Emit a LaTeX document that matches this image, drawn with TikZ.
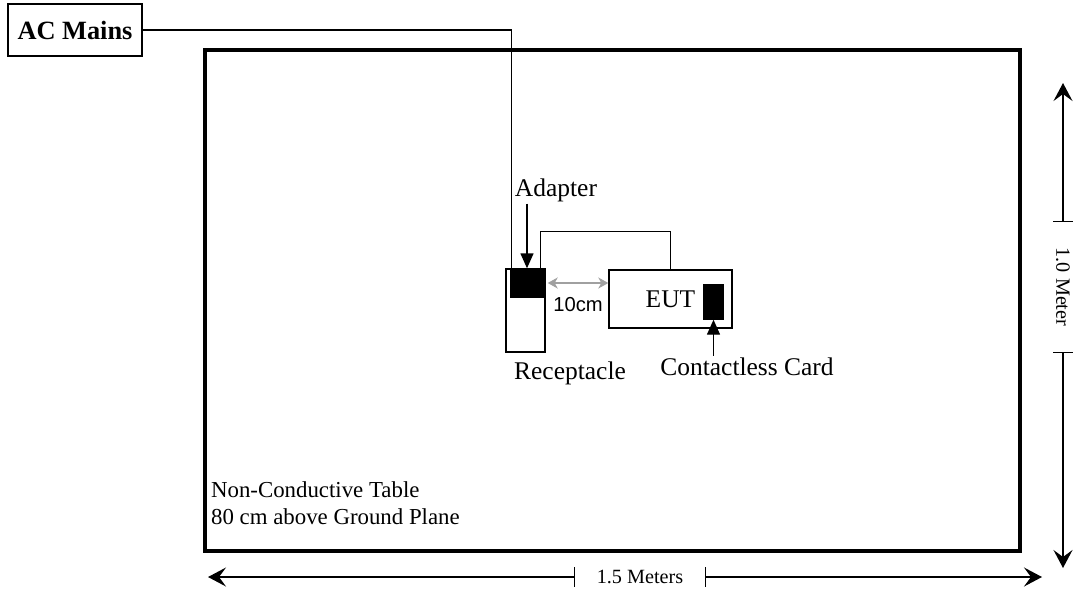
\documentclass[tikz,border=0pt]{standalone}
\usepackage{fontspec}
\setmainfont{Liberation Serif}
\newfontfamily\arialfont{Liberation Sans}
\usetikzlibrary{arrows.meta, positioning, calc}
\definecolor{gapgray}{HTML}{A0A0A0}

\begin{document}
\begin{tikzpicture}[
    x=0.02cm, y=-0.02cm,
    box/.style={
        draw, rectangle, line width=0.8pt, inner sep=0pt
    },
    blk/.style={
        box, fill=black
    },
    lbl/.style={
        font=\fontsize{14.5}{16.5}\selectfont, inner sep=1pt
    },
    ptr/.style={
        -{Triangle[length=0.3cm, width=0.26cm]}, line width=0.8pt
    },
    dim/.style={
        -{Stealth[length=0.36cm, width=0.38cm, inset=0.14cm]}, line width=0.9pt
    },
    dimlbl/.style={
        font=\fontsize{11.5}{13}\selectfont, inner sep=0pt, minimum width=2.6cm
    }
]
\useasboundingbox (0,0) rectangle (1078,589);

% table
\node[box, line width=2pt, minimum width=16.3cm, minimum height=10.02cm] (table) at (612.5,300.5) {};
\node[lbl, font=\fontsize{13}{15}\selectfont, align=left, anchor=north west] (tablelbl) at (209,480) {Non-Conductive Table\\80 cm above Ground Plane};

% ac mains
\node[box, line width=1pt, minimum width=2.68cm, minimum height=1.04cm, font=\fontsize{15}{17}\selectfont\bfseries] (mains) at (75,30) {AC Mains};

% receptacle and adapter
\node[box, minimum width=0.78cm, minimum height=1.66cm] (recept) at (525.5,310.5) {};
\node[blk, minimum width=0.64cm, minimum height=0.56cm] (adapter) at (527,283) {};
\node[lbl] (adapterlbl) at (556,190) {Adapter};
\node[lbl] (receptlbl) at (570,373) {Receptacle};

% eut
\node[box, minimum width=2.46cm, minimum height=1.16cm, font=\fontsize{14.5}{16}\selectfont] (eut) at (670.5,299) {EUT\hspace{1.1em}};
\node[blk, minimum width=0.38cm, minimum height=0.68cm] (card) at (713.5,302) {};
\node[lbl] (cardlbl) at (747,367) {Contactless Card};

% 10cm gap
\node[font=\arialfont\fontsize{11.5}{13}\selectfont, inner sep=0pt] (gaplbl) at (578,305) {10cm};

% cables
\draw[line width=0.8pt] (mains.east) -| ([xshift=0.02cm]adapter.north west);
\draw[line width=0.8pt] ([xshift=-0.06cm]adapter.north east) |- ([yshift=0.76cm]eut.north) -- (eut.north);

% pointers
\draw[ptr] (adapterlbl.south -| adapter.north) -- (adapter.north);
\draw[ptr] (cardlbl.north -| card.south) -- (card.south);
\draw[{Stealth[length=0.2cm, width=0.22cm, inset=0.06cm]}-{Stealth[length=0.2cm, width=0.22cm, inset=0.06cm]}, draw=gapgray, line width=0.8pt] ([xshift=0.08cm]adapter.east) -- (adapter.east -| eut.west);

% dimensions
\coordinate (wleft) at (208,577);
\coordinate (wright) at (1042,577);
\node[dimlbl] (widthlbl) at (640,577) {1.5 Meters};
\draw[dim] (widthlbl.west) -- (wleft);
\draw[dim] (widthlbl.east) -- (wright);
\draw[line width=0.8pt] ([yshift=0.2cm]widthlbl.west) -- ([yshift=-0.2cm]widthlbl.west);
\draw[line width=0.8pt] ([yshift=0.2cm]widthlbl.east) -- ([yshift=-0.2cm]widthlbl.east);

\coordinate (htop) at (1063,83);
\coordinate (hbot) at (1063,568);
\node[dimlbl, rotate=-90] (heightlbl) at (1063,287) {1.0 Meter};
\draw[dim] (heightlbl.west) -- (htop);
\draw[dim] (heightlbl.east) -- (hbot);
\draw[line width=0.8pt] ([xshift=-0.2cm]heightlbl.west) -- ([xshift=0.2cm]heightlbl.west);
\draw[line width=0.8pt] ([xshift=-0.2cm]heightlbl.east) -- ([xshift=0.2cm]heightlbl.east);

\end{tikzpicture}
\end{document}
